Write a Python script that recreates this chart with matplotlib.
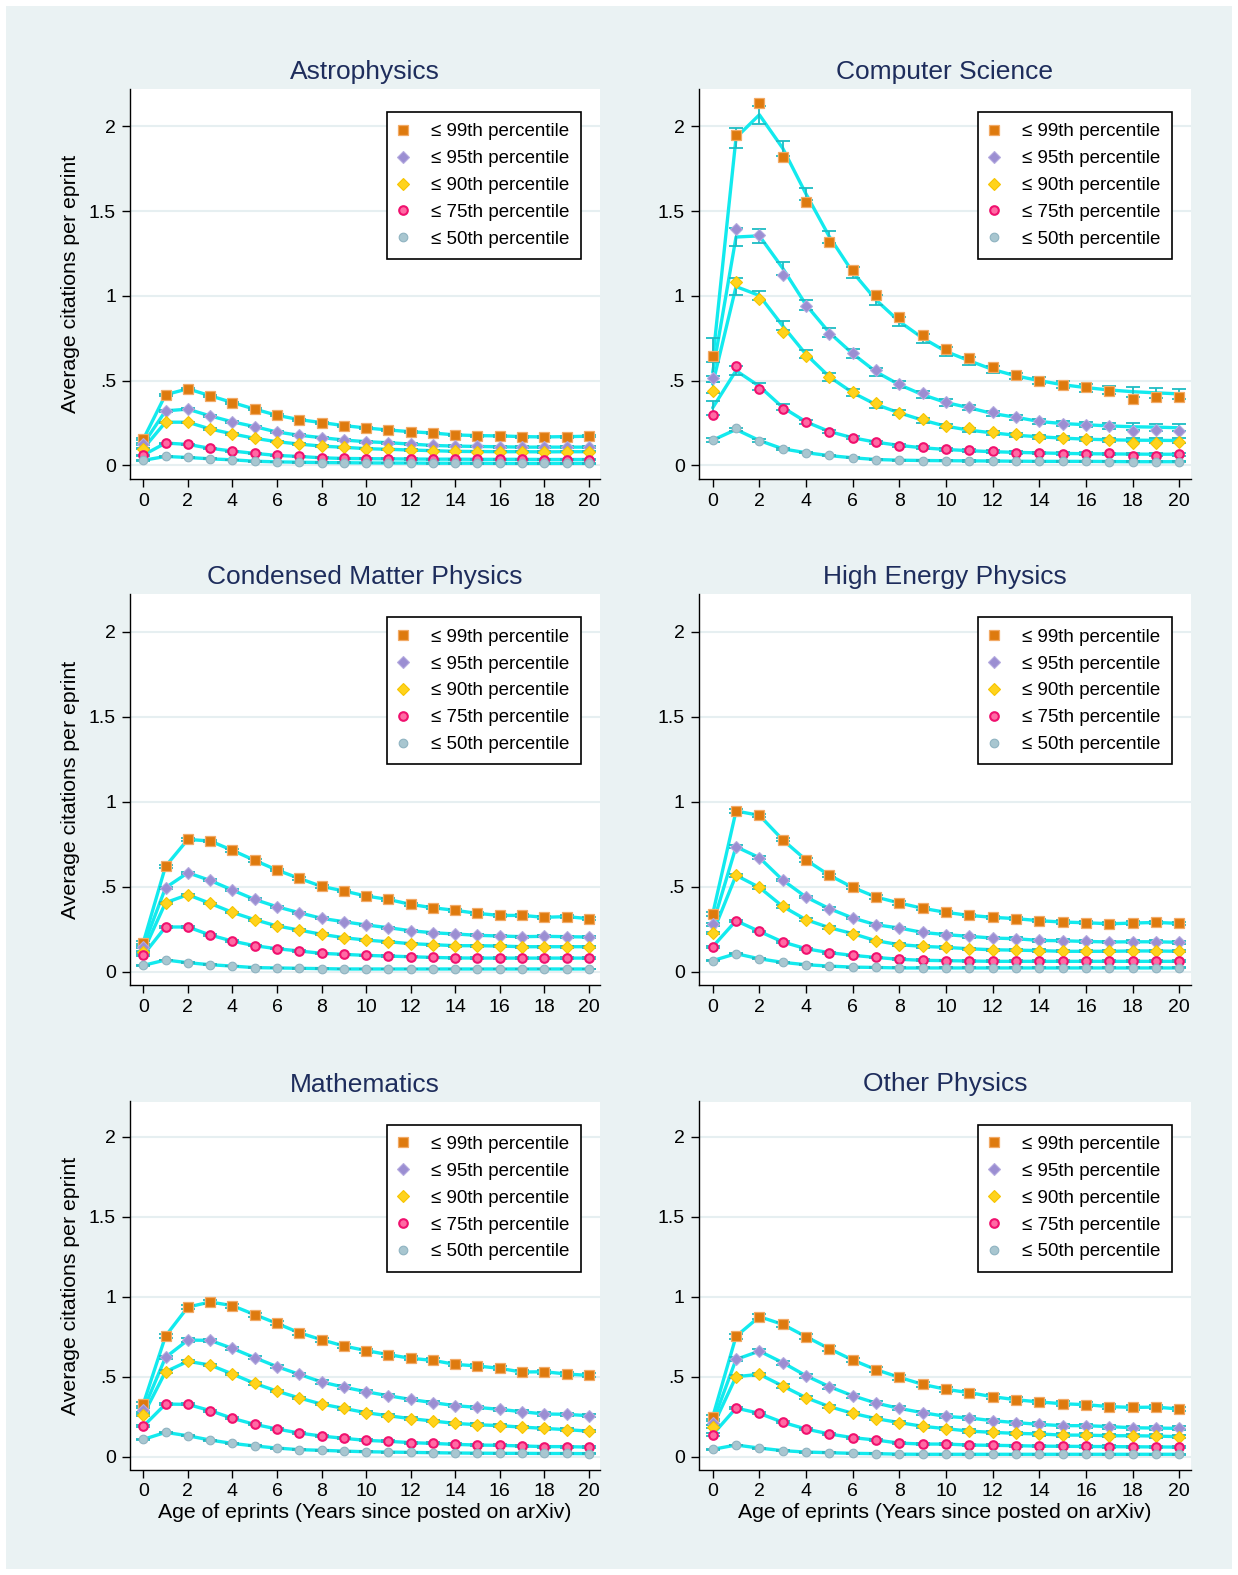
import matplotlib
matplotlib.use('Agg')
import matplotlib.pyplot as plt
from matplotlib.patches import Rectangle

plt.rcParams['font.family'] = ['Liberation Sans', 'DejaVu Sans']

# Données
years = list(range(21))
series_labels = ['≤ 99th percentile', '≤ 95th percentile', '≤ 90th percentile',
                 '≤ 75th percentile', '≤ 50th percentile']
panel_titles = ['Astrophysics', 'Computer Science', 'Condensed Matter Physics',
                'High Energy Physics', 'Mathematics', 'Other Physics']

astro_p99 = [0.154, 0.417, 0.452, 0.411, 0.371, 0.332, 0.296, 0.270, 0.253, 0.235, 0.221,
             0.209, 0.199, 0.191, 0.180, 0.176, 0.174, 0.170, 0.168, 0.170, 0.172]
astro_p95 = [0.126, 0.322, 0.332, 0.292, 0.257, 0.229, 0.197, 0.178, 0.164, 0.150, 0.140,
             0.134, 0.126, 0.118, 0.114, 0.112, 0.110, 0.108, 0.108, 0.108, 0.108]
astro_p90 = [0.099, 0.255, 0.255, 0.215, 0.186, 0.160, 0.140, 0.126, 0.114, 0.107, 0.099,
             0.095, 0.091, 0.087, 0.083, 0.082, 0.081, 0.081, 0.080, 0.081, 0.081]
astro_p75 = [0.061, 0.132, 0.124, 0.101, 0.085, 0.071, 0.059, 0.053, 0.045, 0.041, 0.040,
             0.039, 0.038, 0.037, 0.037, 0.036, 0.036, 0.036, 0.035, 0.035, 0.035]
astro_p50 = [0.030, 0.053, 0.047, 0.039, 0.033, 0.025, 0.021, 0.019, 0.017, 0.016, 0.015,
             0.014, 0.014, 0.013, 0.013, 0.013, 0.012, 0.012, 0.012, 0.012, 0.012]
astro_err = [0.006, 0.005, 0.004, 0.003, 0.002]

# Computer Science : moyennes observées, valeurs ajustées et intervalles
cs_p99 = [0.643, 1.949, 2.136, 1.820, 1.554, 1.319, 1.152, 1.008, 0.873, 0.771, 0.688,
          0.633, 0.580, 0.531, 0.500, 0.475, 0.461, 0.437, 0.394, 0.404, 0.401]
cs_p95 = [0.516, 1.394, 1.359, 1.124, 0.941, 0.776, 0.661, 0.565, 0.483, 0.425, 0.375,
          0.345, 0.316, 0.284, 0.261, 0.247, 0.237, 0.231, 0.202, 0.208, 0.202]
cs_p90 = [0.441, 1.084, 0.982, 0.788, 0.643, 0.520, 0.433, 0.367, 0.312, 0.275, 0.235,
          0.220, 0.200, 0.184, 0.166, 0.159, 0.155, 0.151, 0.133, 0.133, 0.137]
cs_p75 = [0.296, 0.584, 0.453, 0.333, 0.257, 0.198, 0.163, 0.137, 0.117, 0.106, 0.094,
          0.090, 0.084, 0.075, 0.075, 0.069, 0.069, 0.071, 0.055, 0.055, 0.065]
cs_p50 = [0.149, 0.222, 0.147, 0.098, 0.075, 0.059, 0.045, 0.035, 0.031, 0.029, 0.028,
          0.027, 0.026, 0.025, 0.024, 0.024, 0.024, 0.023, 0.022, 0.022, 0.022]

cs_fit_p99 = [0.620, 1.933, 2.068, 1.871, 1.601, 1.349, 1.140, 0.976, 0.849, 0.751, 0.672,
              0.617, 0.566, 0.528, 0.500, 0.476, 0.459, 0.445, 0.435, 0.428, 0.422]
cs_fit_p95 = [0.550, 1.347, 1.354, 1.163, 0.947, 0.783, 0.659, 0.552, 0.476, 0.417, 0.371,
              0.340, 0.306, 0.284, 0.259, 0.247, 0.240, 0.233, 0.228, 0.226, 0.222]
cs_fit_p90 = [0.480, 1.055, 1.002, 0.823, 0.655, 0.523, 0.429, 0.359, 0.310, 0.267, 0.231,
              0.208, 0.192, 0.178, 0.169, 0.161, 0.155, 0.151, 0.149, 0.148, 0.147]
cs_fit_p75 = [0.340, 0.559, 0.467, 0.342, 0.257, 0.200, 0.163, 0.137, 0.118, 0.104, 0.094,
              0.087, 0.081, 0.077, 0.074, 0.071, 0.069, 0.068, 0.067, 0.066, 0.066]
cs_fit_p50 = [0.149, 0.212, 0.147, 0.098, 0.075, 0.058, 0.045, 0.035, 0.031, 0.029, 0.028,
              0.027, 0.026, 0.025, 0.024, 0.024, 0.024, 0.023, 0.022, 0.022, 0.022]

cs_err_p99 = [0.130, 0.059, 0.052, 0.045, 0.038, 0.035, 0.032, 0.030, 0.028, 0.026, 0.024,
              0.022, 0.020, 0.020, 0.021, 0.022, 0.024, 0.026, 0.030, 0.030, 0.031]
cs_err_p95 = [0.060, 0.051, 0.040, 0.039, 0.030, 0.026, 0.025, 0.022, 0.020, 0.020, 0.018,
              0.016, 0.015, 0.014, 0.015, 0.015, 0.016, 0.017, 0.020, 0.021, 0.021]
cs_err_p90 = [0.050, 0.050, 0.025, 0.027, 0.024, 0.023, 0.020, 0.018, 0.015, 0.014, 0.012,
              0.011, 0.011, 0.011, 0.011, 0.011, 0.012, 0.012, 0.012, 0.013, 0.013]
cs_err_p75 = [0.040, 0.027, 0.020, 0.018, 0.012, 0.010, 0.009, 0.008, 0.008, 0.008, 0.008,
              0.008, 0.008, 0.008, 0.008, 0.008, 0.008, 0.008, 0.008, 0.008, 0.008]
cs_err_p50 = [0.010, 0.008, 0.006, 0.005, 0.004, 0.004, 0.004, 0.004, 0.004, 0.004, 0.004,
              0.004, 0.004, 0.004, 0.004, 0.004, 0.004, 0.004, 0.004, 0.004, 0.004]

cmp_p99 = [0.171, 0.620, 0.778, 0.769, 0.714, 0.655, 0.598, 0.549, 0.502, 0.475, 0.445,
           0.425, 0.396, 0.376, 0.361, 0.343, 0.331, 0.331, 0.320, 0.324, 0.312]
cmp_p95 = [0.147, 0.494, 0.582, 0.537, 0.480, 0.425, 0.382, 0.347, 0.314, 0.294, 0.275,
           0.259, 0.241, 0.229, 0.222, 0.214, 0.210, 0.206, 0.208, 0.206, 0.204]
cmp_p90 = [0.118, 0.406, 0.453, 0.402, 0.349, 0.306, 0.269, 0.245, 0.220, 0.200, 0.186,
           0.176, 0.165, 0.159, 0.153, 0.153, 0.151, 0.147, 0.147, 0.147, 0.147]
cmp_p75 = [0.098, 0.263, 0.263, 0.216, 0.180, 0.153, 0.135, 0.122, 0.108, 0.102, 0.096,
           0.092, 0.088, 0.084, 0.081, 0.080, 0.080, 0.080, 0.080, 0.080, 0.080]
cmp_p50 = [0.037, 0.069, 0.053, 0.041, 0.033, 0.024, 0.022, 0.020, 0.018, 0.016, 0.016,
           0.016, 0.016, 0.016, 0.016, 0.016, 0.016, 0.016, 0.016, 0.016, 0.016]
cmp_err = [0.008, 0.006, 0.005, 0.004, 0.002]

hep_p99 = [0.339, 0.945, 0.920, 0.776, 0.657, 0.567, 0.496, 0.439, 0.404, 0.373, 0.349,
           0.331, 0.320, 0.312, 0.300, 0.292, 0.288, 0.282, 0.286, 0.290, 0.284]
hep_p95 = [0.278, 0.735, 0.671, 0.539, 0.439, 0.371, 0.316, 0.276, 0.257, 0.231, 0.218,
           0.208, 0.198, 0.194, 0.184, 0.182, 0.178, 0.175, 0.176, 0.176, 0.173]
hep_p90 = [0.227, 0.567, 0.496, 0.384, 0.306, 0.259, 0.224, 0.182, 0.159, 0.149, 0.143,
           0.135, 0.129, 0.127, 0.124, 0.120, 0.120, 0.120, 0.122, 0.122, 0.120]
hep_p75 = [0.147, 0.300, 0.237, 0.175, 0.135, 0.112, 0.096, 0.084, 0.073, 0.067, 0.065,
           0.063, 0.061, 0.061, 0.061, 0.061, 0.061, 0.061, 0.061, 0.061, 0.061]
hep_p50 = [0.065, 0.106, 0.076, 0.055, 0.041, 0.033, 0.027, 0.025, 0.022, 0.022, 0.022,
           0.022, 0.022, 0.022, 0.022, 0.022, 0.022, 0.022, 0.022, 0.022, 0.022]
hep_err = [0.010, 0.008, 0.007, 0.005, 0.003]

math_p99 = [0.329, 0.754, 0.935, 0.967, 0.944, 0.888, 0.833, 0.775, 0.731, 0.692, 0.663,
            0.638, 0.615, 0.602, 0.577, 0.567, 0.552, 0.529, 0.531, 0.517, 0.508]
math_p95 = [0.292, 0.621, 0.729, 0.727, 0.677, 0.619, 0.563, 0.515, 0.467, 0.435, 0.406,
            0.381, 0.358, 0.338, 0.319, 0.308, 0.296, 0.281, 0.267, 0.265, 0.256]
math_p90 = [0.260, 0.531, 0.596, 0.573, 0.517, 0.458, 0.410, 0.367, 0.329, 0.302, 0.275,
            0.256, 0.238, 0.223, 0.208, 0.200, 0.194, 0.185, 0.177, 0.169, 0.160]
math_p75 = [0.190, 0.329, 0.327, 0.288, 0.240, 0.202, 0.173, 0.148, 0.129, 0.115, 0.102,
            0.096, 0.088, 0.083, 0.077, 0.073, 0.071, 0.067, 0.063, 0.063, 0.060]
math_p50 = [0.108, 0.152, 0.131, 0.104, 0.083, 0.067, 0.054, 0.044, 0.040, 0.035, 0.031,
            0.029, 0.027, 0.025, 0.023, 0.022, 0.021, 0.021, 0.020, 0.020, 0.019]
math_err = [0.012, 0.010, 0.008, 0.006, 0.003]

other_p99 = [0.248, 0.752, 0.875, 0.827, 0.750, 0.675, 0.604, 0.544, 0.496, 0.452, 0.421,
             0.400, 0.375, 0.356, 0.342, 0.331, 0.325, 0.313, 0.308, 0.310, 0.298]
other_p95 = [0.213, 0.608, 0.660, 0.588, 0.506, 0.438, 0.381, 0.335, 0.302, 0.275, 0.252,
             0.242, 0.225, 0.213, 0.202, 0.194, 0.194, 0.188, 0.181, 0.179, 0.177]
other_p90 = [0.188, 0.500, 0.515, 0.442, 0.369, 0.313, 0.271, 0.238, 0.213, 0.190, 0.175,
             0.160, 0.152, 0.146, 0.142, 0.135, 0.135, 0.131, 0.131, 0.129, 0.125]
other_p75 = [0.138, 0.304, 0.271, 0.215, 0.173, 0.142, 0.119, 0.104, 0.085, 0.079, 0.079,
             0.073, 0.071, 0.069, 0.066, 0.065, 0.064, 0.063, 0.062, 0.061, 0.060]
other_p50 = [0.046, 0.073, 0.054, 0.038, 0.029, 0.025, 0.021, 0.019, 0.016, 0.015, 0.015,
             0.015, 0.015, 0.015, 0.015, 0.015, 0.015, 0.015, 0.015, 0.015, 0.015]
other_err = [0.015, 0.012, 0.010, 0.007, 0.003]

# Regrouper par panneau : (moyennes, valeurs ajustées, demi-largeurs des barres)
astro = [astro_p99, astro_p95, astro_p90, astro_p75, astro_p50]
cmp = [cmp_p99, cmp_p95, cmp_p90, cmp_p75, cmp_p50]
hep = [hep_p99, hep_p95, hep_p90, hep_p75, hep_p50]
maths = [math_p99, math_p95, math_p90, math_p75, math_p50]
other = [other_p99, other_p95, other_p90, other_p75, other_p50]
cs = [cs_p99, cs_p95, cs_p90, cs_p75, cs_p50]
cs_fit = [cs_fit_p99, cs_fit_p95, cs_fit_p90, cs_fit_p75, cs_fit_p50]
cs_err = [cs_err_p99, cs_err_p95, cs_err_p90, cs_err_p75, cs_err_p50]

panels = [
    (astro, astro, [[e] * len(years) for e in astro_err]),
    (cs, cs_fit, cs_err),
    (cmp, cmp, [[e] * len(years) for e in cmp_err]),
    (hep, hep, [[e] * len(years) for e in hep_err]),
    (maths, maths, [[e] * len(years) for e in math_err]),
    (other, other, [[e] * len(years) for e in other_err]),
]

marker_styles = [
    dict(marker='s', ms=6.6, mfc='#DE7A0E', mec='#F2AA66', mew=0.9),
    dict(marker='D', ms=6.0, mfc='#9B8ED2', mec='#B4AADF', mew=0.8),
    dict(marker='D', ms=6.0, mfc='#FFD31C', mec='#F6C400', mew=0.8),
    dict(marker='o', ms=6.2, mfc='#FF6AA4', mec='#F0106E', mew=1.5),
    dict(marker='o', ms=6.2, mfc='#A8C6D0', mec='#8FB3C1', mew=0.8),
]

W, H = 1238, 1575
fig = plt.figure(figsize=(W / 100, H / 100), dpi=100)
fig.patch.set_facecolor('white')
fig.patches.append(Rectangle((6 / W, 6 / H), 1 - 12 / W, 1 - 12 / H, transform=fig.transFigure,
                             facecolor='#EAF2F3', edgecolor='none', zorder=-10))

col_px = [(129.9, 470.1), (698.7, 492.3)]
row_px = [(89.0, 479.0), (594.3, 985.3), (1101.5, 1469.5)]

for i, (obs, fit, err) in enumerate(panels):
    r, c = divmod(i, 2)
    x0, w = col_px[c]
    top, bot = row_px[r]
    hpx = bot - top
    ax = fig.add_axes([x0 / W, 1 - bot / H, w / W, hpx / H])
    ax.set_facecolor('white')

    for k in range(5):
        ax.plot(years, fit[k], color='#12EAEE', lw=2.4, zorder=2, solid_capstyle='round')
        ax.errorbar(years, fit[k], yerr=err[k], fmt='none', ecolor='#1DBDC4',
                    elinewidth=1.3, capsize=5, capthick=1.3, zorder=3)
        ax.plot(years, obs[k], ls='none', zorder=4, label=series_labels[k], **marker_styles[k])

    ax.set_xlim(-0.6, 20.5)
    ax.set_ylim(-0.08, 2.22)
    ax.set_xticks(range(0, 21, 2))
    ax.set_yticks([0, 0.5, 1, 1.5, 2])
    ax.set_yticklabels(['0', '.5', '1', '1.5', '2'])
    ax.grid(axis='y', color='#E6EFF1', lw=1.5, zorder=0)
    ax.set_axisbelow(True)
    for s in ['top', 'right']:
        ax.spines[s].set_visible(False)
    for s in ['left', 'bottom']:
        ax.spines[s].set_linewidth(1.0)
        ax.spines[s].set_color('black')
    ax.tick_params(direction='out', length=6, width=1, labelsize=14, pad=4, colors='black')

    ax.text(0.5, 1 + 17 / hpx, panel_titles[i], transform=ax.transAxes, ha='center',
            va='center', fontsize=19, color='#1E2D5C')

    if c == 0:
        ax.set_ylabel('Average citations per eprint', fontsize=15.3)
        ax.yaxis.set_label_coords(-0.1064, 0.5)
    if r == 2:
        ax.set_xlabel('Age of eprints (Years since posted on arXiv)', fontsize=15.3)
        ax.xaxis.set_label_coords(0.5, -0.091)

    leg_right = (w - 19) / w
    leg_top = 1 - 23 / hpx
    leg = ax.legend(loc='upper right', bbox_to_anchor=(leg_right, leg_top), borderaxespad=0,
                    fontsize=13.5, frameon=True, fancybox=False, edgecolor='black',
                    framealpha=1, borderpad=0.6, labelspacing=0.52, handlelength=0.45,
                    handletextpad=1.3, numpoints=1)
    leg.get_frame().set_linewidth(1.2)

fig.savefig('out.png', dpi=100)
